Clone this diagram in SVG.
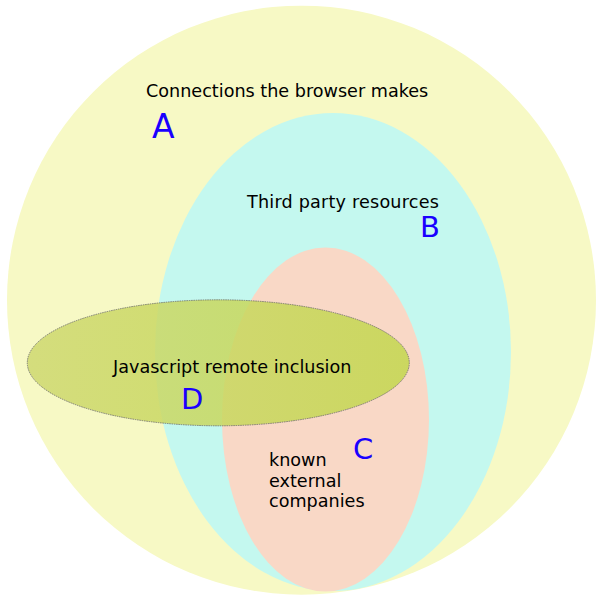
<svg xmlns="http://www.w3.org/2000/svg" width="600" height="600" viewBox="0 0 600 600">
<defs>
<linearGradient id="gD" x1="0" y1="0" x2="1" y2="0">
<stop offset="0" stop-color="#ced870"/>
<stop offset="1" stop-color="#c3d74e"/>
</linearGradient>
</defs>
<style>
.t{font-family:"DejaVu Sans",Verdana,sans-serif;font-size:17.6px;fill:#000}
.l{font-family:"DejaVu Sans",Verdana,sans-serif;fill:#1a00ff}
</style>
<rect width="600" height="600" fill="#fff"/>
<g id="A">
<circle cx="301.5" cy="300.2" r="294.5" fill="#f7f9c5"/>
<text class="t" x="146" y="97">Connections the browser makes</text>
<text class="l" x="152" y="138" font-size="33">A</text>
</g>
<g id="B">
<ellipse cx="333" cy="352" rx="178" ry="239" fill="#c4f8ef"/>
<text class="t" x="247" y="208" letter-spacing="0.2">Third party resources</text>
<text class="l" x="420" y="237" font-size="29">B</text>
</g>
<g id="C">
<ellipse cx="325.5" cy="419.5" rx="103.5" ry="172" fill="#f9d8c6"/>
<text class="t"><tspan x="269" y="466">known</tspan><tspan x="269" y="486.5">external</tspan><tspan x="269" y="507">companies</tspan></text>
<text class="l" x="353" y="459" font-size="29">C</text>
</g>
<g id="D">
<ellipse cx="218.3" cy="362.8" rx="191" ry="63" fill="url(#gD)" fill-opacity="0.85" stroke="#666" stroke-width="0.8" stroke-dasharray="1.5,0.8"/>
<text class="t" x="113" y="373">Javascript remote inclusion</text>
<text class="l" x="181" y="409" font-size="29">D</text>
</g>
<g id="connectors"/>
</svg>
